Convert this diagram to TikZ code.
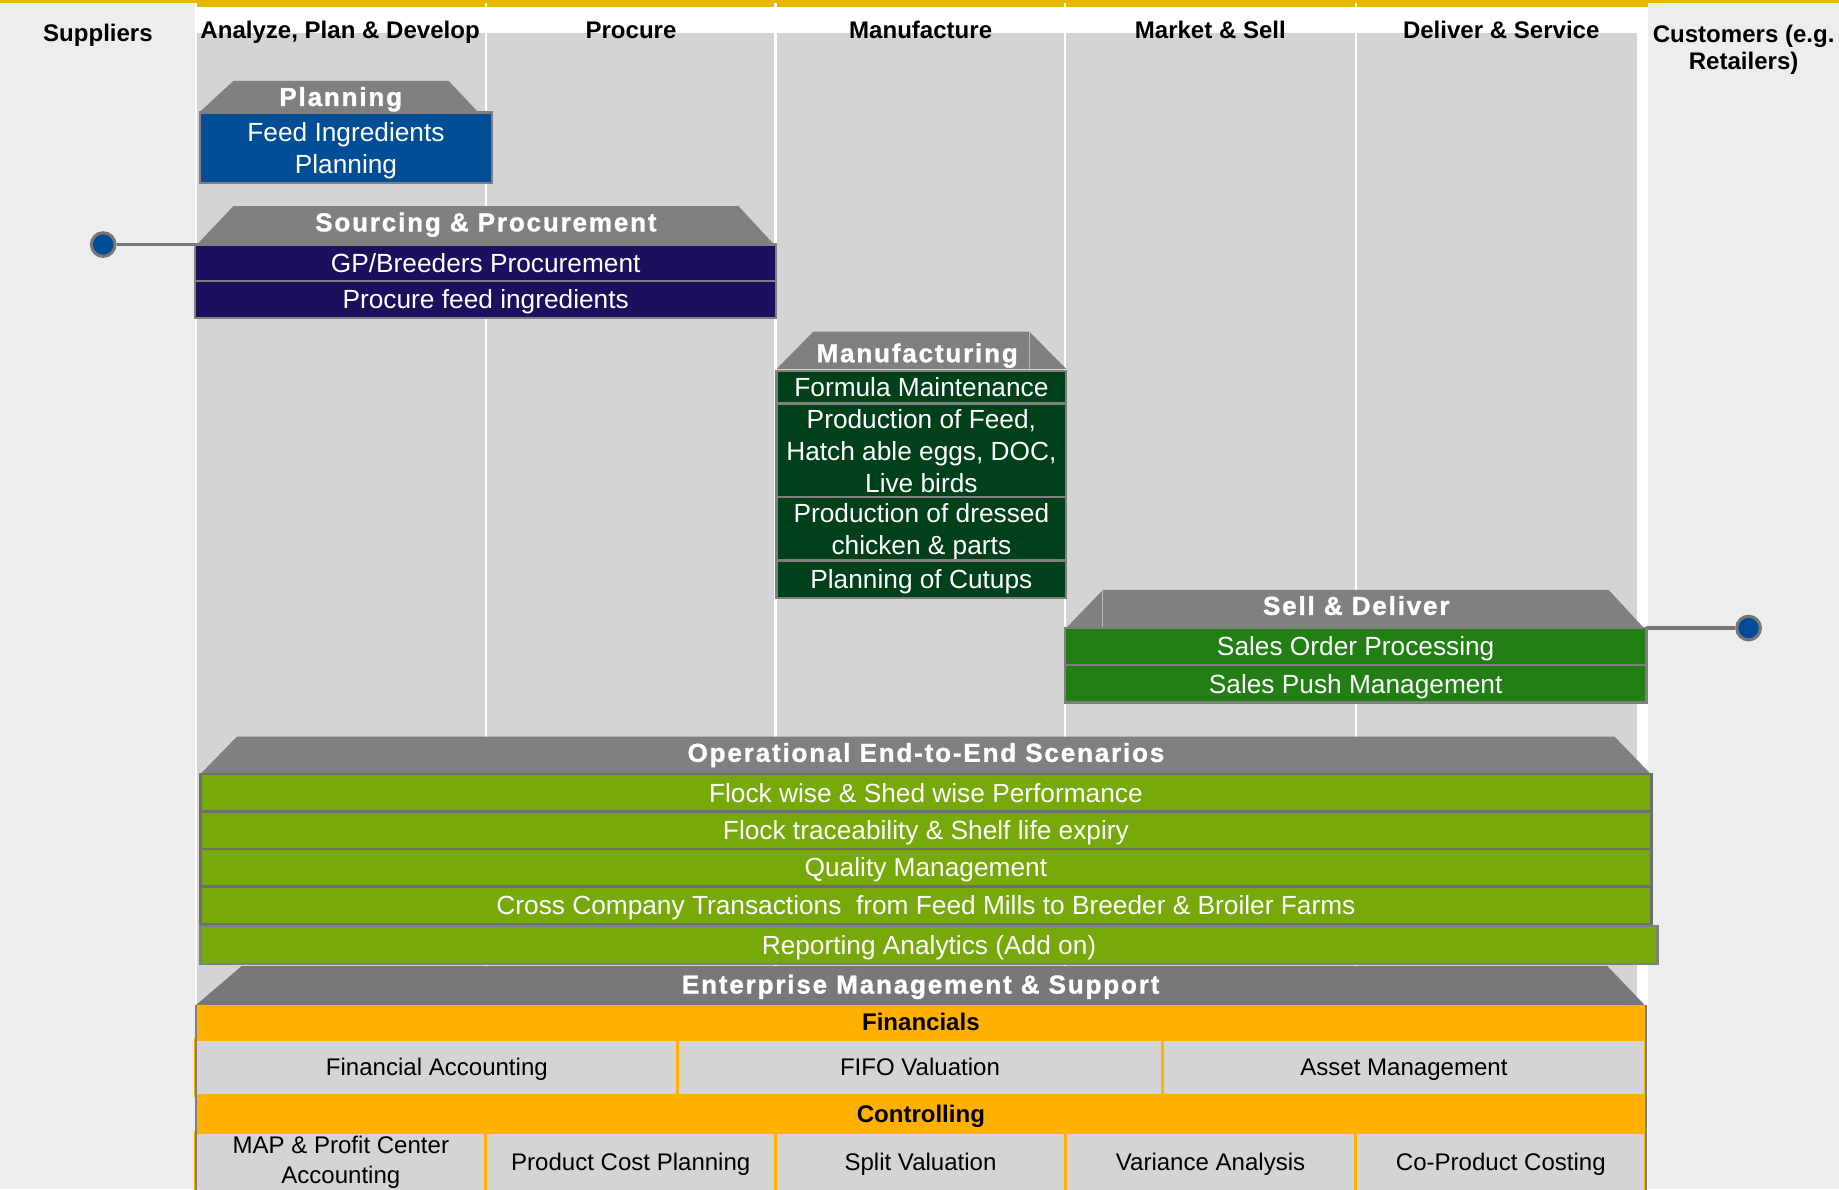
\documentclass[tikz,border=0pt]{standalone}
\usepackage{fontspec}
\setmainfont{Liberation Sans}
\newfontfamily\titlefont[LetterSpace=7,FakeBold=1.2]{Liberation Sans}
\definecolor{lanegray}{HTML}{D4D4D4}
\definecolor{sidegray}{HTML}{EDEDED}
\definecolor{yel}{HTML}{E6B800}
\definecolor{trapgray}{HTML}{808080}
\definecolor{entgray}{HTML}{787878}
\definecolor{bgray}{HTML}{7F7F7F}
\definecolor{opborder}{HTML}{6E6E6E}
\definecolor{planblue}{HTML}{024E96}
\definecolor{navy}{HTML}{1B0F5E}
\definecolor{mfgreen}{HTML}{00401A}
\definecolor{sellgreen}{HTML}{217F14}
\definecolor{opgreen}{HTML}{76A909}
\definecolor{orng}{HTML}{FFB000}
\definecolor{dotblue}{HTML}{004C97}
\definecolor{dotgray}{HTML}{777777}
\newcommand\mybox[7]{\node[#6, minimum width={(#4-#2)*0.5pt}, minimum height={(#5-#3)*0.5pt}] (#1) at ({(#2+#4)/2},{(#3+#5)/2}) {#7};}
\newcommand\trapz[7]{\fill[#7] (#3,#2) -- (#4,#1) -- (#5,#1) -- (#6,#2) -- cycle;}
\tikzset{
 bxbase/.style={inner sep=0pt, outer sep=0pt, align=center, line width=1pt, draw=bgray},
 body/.style={font=\fontsize{11.2pt}{13.5pt}\selectfont, text=white},
 one/.style={text height=8pt, text depth=0pt},
 onesm/.style={text height=7.34pt, text depth=0pt},
 down/.style={text depth=0pt},
 planbox/.style={bxbase, body, fill=planblue, down},
 navybox/.style={bxbase, body, fill=navy, one},
 mfbox/.style={bxbase, body, fill=mfgreen},
 sellbox/.style={bxbase, body, fill=sellgreen, one},
 opbox/.style={bxbase, body, fill=opgreen, draw=opborder, one},
 orbar/.style={inner sep=0pt, outer sep=0pt, fill=orng, font=\bfseries\fontsize{10.25pt}{12.5pt}\selectfont, onesm},
 cell/.style={inner sep=0pt, outer sep=0pt, align=center, fill=lanegray, draw=orng, line width=1.25pt, font=\fontsize{10.25pt}{12.5pt}\selectfont},
 hdr/.style={inner sep=0pt, align=center, font=\bfseries\fontsize{10.25pt}{11.4pt}\selectfont},
 ttl/.style={inner sep=0pt, text=white, font=\titlefont\bfseries\fontsize{11.1pt}{13pt}\selectfont, text height=7.95pt, text depth=0pt},
 dot/.style={circle, fill=dotblue, draw=dotgray, line width=1.3pt, minimum size=10.1pt, inner sep=0pt},
 conn/.style={draw=dotgray, line width=1.4pt},
 seam/.style={draw=gray!55, line width=0.4pt},
}
\begin{document}
\begin{tikzpicture}[x=0.5pt,y=-0.5pt]
\useasboundingbox (0,0) rectangle (1568,1014);
\clip (0,0) rectangle (1568,1014);
% background and lanes
\fill[white] (0,0) rectangle (1568,1014);
\fill[yel] (0,0) rectangle (1568,2.8);
\fill[yel] (166.5,0) rectangle (1404.8,5.7);
\fill[sidegray] (0,2.8) rectangle (166.5,1014);
\fill[sidegray] (1404.8,2.8) rectangle (1568,1014);
\fill[lanegray] (168,28) rectangle (1396,1014);
\foreach \s in {166.5,413.3,660.3,907.3,1155.3}{\fill[white] (\s,2.8) rectangle (\s+1.8,1014);}
% headers
\node[hdr, anchor=base] (hSup) at (83.5,35.5) {Suppliers};
\node[hdr, anchor=base] (hAPD) at (290,32.7) {Analyze, Plan \& Develop};
\node[hdr, anchor=base] (hProc) at (538,32.7) {Procure};
\node[hdr, anchor=base] (hMan) at (785,32.7) {Manufacture};
\node[hdr, anchor=base] (hMkt) at (1032,32.7) {Market \& Sell};
\node[hdr, anchor=base] (hDel) at (1280,32.7) {Deliver \& Service};
\node[hdr, anchor=base] (hCust) at (1486.7,59.3) {Customers (e.g.\\Retailers)};
% Planning
\trapz{69}{96}{169.7}{199}{382.5}{408}{trapgray}
\mybox{bFIP}{170.7}{96}{419.3}{156}{planbox}{Feed Ingredients\\Planning}
\node[ttl] (tPlan) at (290.5,82.4) {Planning};
% Sourcing
\trapz{175.7}{208.5}{168}{199}{629.6}{660}{trapgray}
\mybox{bGP}{166.5}{208.5}{661.8}{239.8}{navybox}{GP/Breeders Procurement}
\mybox{bPFI}{166.5}{239.8}{661.8}{271}{navybox}{Procure feed ingredients}
\node[ttl] (tSrc) at (414.3,189.3) {Sourcing \& Procurement};
% Manufacturing
\trapz{282.8}{314.5}{662.2}{693.5}{877.7}{909}{trapgray}
\draw[seam] (877.7,282.8) -- (877.7,314.5);
\mybox{bFM}{662.2}{314.5}{909}{341.9}{mfbox,one,yshift=-0.8pt}{Formula Maintenance}
\mybox{bPF}{662.2}{341.9}{909}{423.5}{mfbox,yshift=-1pt}{Production of Feed,\\Hatch able eggs, DOC,\\Live birds}
\mybox{bPD}{662.2}{423.5}{909}{478}{mfbox,down}{Production of dressed\\chicken \& parts}
\mybox{bPC}{662.2}{478}{909}{510}{mfbox,one}{Planning of Cutups}
\node[ttl] (tMfg) at (782,300.9) {Manufacturing};
% Sell & Deliver
\trapz{503}{535.5}{909}{940.3}{1371.6}{1401.7}{trapgray}
\draw[seam] (940.3,503) -- (940.3,535.5);
\mybox{bSOP}{908}{535.5}{1403.8}{567}{sellbox}{Sales Order Processing}
\mybox{bSPM}{908}{567}{1403.8}{599}{sellbox}{Sales Push Management}
\node[ttl] (tSD) at (1156.4,516.3) {Sell \& Deliver};
% Operational
\trapz{628.1}{659.9}{170.9}{202}{1376.6}{1407.4}{trapgray}
\mybox{bO1}{170.9}{659.9}{1408}{691.8}{opbox}{Flock wise \& Shed wise Performance}
\mybox{bO2}{170.9}{691.8}{1408}{723.6}{opbox}{Flock traceability \& Shelf life expiry}
\mybox{bO3}{170.9}{723.6}{1408}{755.7}{opbox}{Quality Management}
\mybox{bO4}{170.9}{755.7}{1408}{787.6}{opbox}{Cross Company Transactions\ \ from Feed Mills to Breeder \& Broiler Farms}
\mybox{bO5}{170.9}{789.8}{1413.3}{821.8}{opbox,draw=bgray}{Reporting Analytics (Add on)}
\node[ttl] (tOp) at (789.5,641.6) {Operational End-to-End Scenarios};
% Enterprise
\trapz{823.7}{857}{167}{206}{1370.5}{1402.4}{entgray}
\node[ttl] (tEnt) at (785,839.2) {Enterprise Management \& Support};
\mybox{bFin}{167}{857}{1403.3}{886.2}{orbar}{Financials}
\mybox{bFA}{167}{886.2}{578}{933.7}{cell,onesm}{Financial Accounting}
\mybox{bFIFO}{578}{886.2}{990.8}{933.7}{cell,onesm}{FIFO Valuation}
\mybox{bAM}{990.8}{886.2}{1403.3}{933.7}{cell,onesm}{Asset Management}
\mybox{bCtl}{167}{933.7}{1403.3}{965.8}{orbar}{Controlling}
\mybox{bMAP}{167}{965.8}{414.2}{1016}{cell}{MAP \& Profit Center\\Accounting}
\mybox{bPCP}{414.2}{965.8}{661.4}{1016}{cell,onesm}{Product Cost Planning}
\mybox{bSV}{661.4}{965.8}{908.3}{1016}{cell,onesm}{Split Valuation}
\mybox{bVA}{908.3}{965.8}{1156}{1016}{cell,onesm}{Variance Analysis}
\mybox{bCPC}{1156}{965.8}{1403.3}{1016}{cell,onesm}{Co-Product Costing}
\draw[bgray, line width=0.9pt] (bFin.north west) -- (167,1016);
\draw[bgray, line width=0.9pt] (bFin.north east) -- (1403.3,1016);
% connectors and dots
\node[dot] (dSup) at (88,208.5) {};
\node[dot] (dCust) at (1490.9,535.5) {};
\draw[conn] (dSup) -- (bGP.north west);
\draw[conn] (bSOP.north east) -- (dCust);
\end{tikzpicture}
\end{document}
